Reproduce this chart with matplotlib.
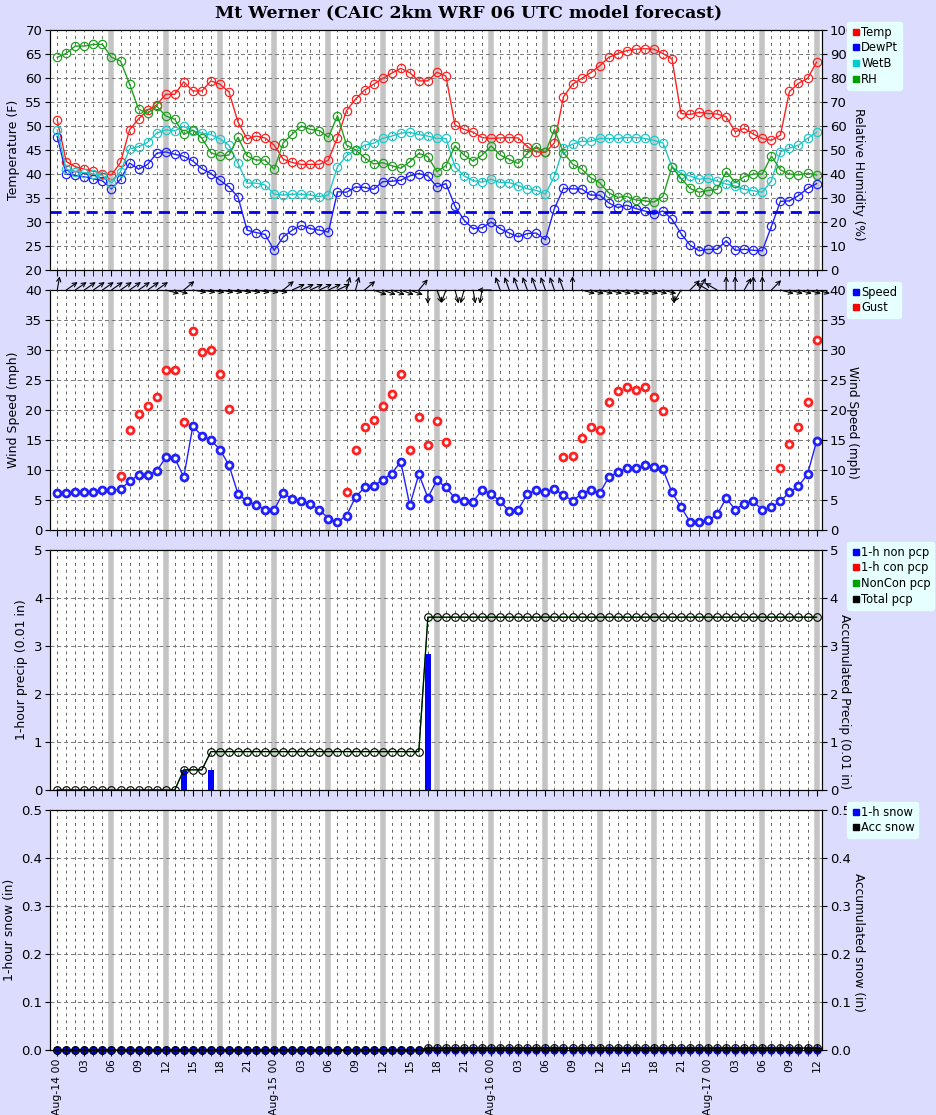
import numpy as np
import matplotlib
matplotlib.use("Agg")
import matplotlib.pyplot as plt
from matplotlib.lines import Line2D

hours = np.arange(85)

temp = [51.25, 42.6, 41.5, 41.0, 40.6, 40.1, 39.8, 42.4, 49.2, 51.5, 53.3, 54.4, 56.6, 56.6, 59.2,
        57.3, 57.3, 59.4, 58.7, 57.1, 50.8, 47.3, 47.9, 47.5, 46.0, 43.1, 42.4, 42.0, 42.0, 42.0,
        42.9, 47.6, 53.2, 55.6, 57.5, 58.7, 59.9, 61.0, 62.0, 61.1, 59.4, 59.4, 61.2, 60.4, 50.2,
        49.3, 48.7, 47.6, 47.4, 47.5, 47.6, 47.5, 45.7, 44.6, 44.5, 46.5, 56.1, 58.7, 59.9, 61.1,
        62.5, 64.3, 65.1, 65.7, 66.0, 66.1, 66.0, 65.1, 64.0, 52.6, 52.4, 52.85, 52.6, 52.5, 51.9,
        48.8, 49.5, 48.3, 47.4, 47.0, 48.1, 57.2, 58.9, 59.9, 61.7]
temp = temp[:84] + [63.3]
dewpt = [47.8, 40.0, 39.7, 39.4, 39.0, 38.6, 36.9, 38.9, 42.3, 41.0, 42.0, 44.3, 44.6, 44.1, 43.7,
         42.7, 41.1, 40.1, 38.7, 37.3, 35.2, 28.3, 27.8, 27.4, 24.1, 26.9, 28.3, 29.3, 28.6, 28.3,
         27.9, 36.3, 36.2, 37.3, 37.2, 36.8, 38.4, 38.5, 38.7, 39.6, 40.1, 39.6, 37.3, 38.0, 33.3,
         30.4, 28.6, 28.8, 30.0, 28.6, 27.7, 26.9, 27.6, 27.7, 26.3, 32.8, 37.0, 36.9, 36.9, 35.6,
         35.6, 34.0, 33.0, 33.5, 32.8, 32.3, 31.6, 32.3, 30.6, 27.6, 25.2, 24.0, 24.3, 24.3, 26.1,
         24.1, 24.3, 24.1, 24.0, 29.1, 34.3, 34.4, 35.5, 37.0, 38.0]
wetb = [49.2, 41.0, 40.5, 40.3, 40.0, 39.7, 38.2, 40.5, 45.2, 45.7, 46.6, 48.5, 49.2, 49.0, 49.9,
        49.0, 48.5, 48.2, 47.3, 46.0, 42.2, 38.1, 38.1, 37.7, 35.8, 35.6, 35.8, 35.8, 35.6, 35.3,
        35.6, 41.5, 43.8, 45.0, 46.0, 46.4, 47.4, 47.9, 48.5, 48.7, 48.2, 47.9, 47.4, 47.4, 41.5,
        39.6, 38.6, 38.3, 38.9, 38.2, 38.2, 37.6, 36.9, 36.6, 35.8, 39.6, 45.4, 46.2, 46.8, 46.8,
        47.4, 47.4, 47.4, 47.6, 47.6, 47.4, 47.0, 46.5, 41.5, 40.1, 39.6, 38.9, 39.1, 38.5, 37.9,
        37.5, 36.8, 36.5, 36.2, 38.6, 44.6, 45.4, 46.0, 47.4, 48.7]
rh = [88.6, 90.3, 93.3, 93.3, 94.0, 94.0, 88.6, 87.1, 77.5, 67.0, 65.3, 68.3, 64.2, 62.8, 56.5,
      58.3, 54.9, 48.9, 47.5, 47.9, 55.3, 47.5, 45.8, 45.8, 42.0, 53.0, 56.7, 60.0, 58.6, 58.1,
      55.3, 64.3, 52.1, 50.0, 46.8, 44.2, 44.7, 43.5, 42.4, 45.1, 48.6, 47.2, 41.0, 43.5, 51.7,
      47.9, 45.4, 47.9, 51.7, 47.9, 46.1, 44.4, 48.6, 51.4, 49.0, 58.6, 48.9, 44.2, 42.1, 38.5,
      36.4, 32.2, 30.3, 30.6, 29.2, 28.8, 28.3, 30.6, 43.0, 38.2, 34.0, 32.4, 33.1, 33.6, 41.0,
      36.4, 38.9, 40.0, 40.0, 47.5, 41.7, 40.0, 39.6, 40.3, 39.6]
freezing = 32

speed = [6.1, 6.1, 6.4, 6.3, 6.3, 6.6, 6.6, 6.8, 8.1, 9.2, 9.2, 9.8, 12.1, 12.0, 8.8,
         17.3, 15.7, 15.0, 13.4, 10.8, 6.0, 4.8, 4.1, 3.4, 3.4, 6.2, 5.1, 4.9, 4.3, 3.4,
         1.9, 1.3, 2.4, 5.5, 7.1, 7.3, 8.4, 9.4, 11.4, 4.1, 9.3, 5.4, 8.3, 7.1, 5.3,
         4.8, 4.7, 6.7, 6.0, 4.8, 3.1, 3.4, 6.0, 6.7, 6.3, 6.8, 5.8, 4.9, 6.0, 6.7,
         6.1, 8.8, 9.6, 10.3, 10.3, 10.8, 10.5, 10.1, 6.3, 3.8, 1.4, 1.4, 1.6, 2.6, 5.3,
         3.4, 4.4, 4.8, 3.3, 3.8, 4.8, 6.3, 7.3, 9.3, 14.8]
gust_hours = [7, 8, 9, 10, 11, 12, 13, 14, 15, 16, 17, 18, 19,
              32, 33, 34, 35, 36, 37, 38, 39, 40, 41, 42, 43,
              56, 57, 58, 59, 60, 61, 62, 63, 64, 65, 66, 67,
              80, 81, 82, 83, 84]
gust = [9.0, 16.7, 19.3, 20.6, 22.1, 26.6, 26.6, 18.0, 33.1, 29.6, 30.0, 26.0, 20.1,
        6.3, 13.3, 17.1, 18.4, 20.6, 22.6, 26.0, 13.4, 18.8, 14.1, 18.1, 14.6,
        12.1, 12.3, 15.3, 17.1, 16.6, 21.3, 23.1, 23.9, 23.4, 23.8, 22.1, 19.8,
        10.3, 14.3, 17.2, 21.3, 31.7]
# direction the wind arrow points (math degrees)
arrow_dir = [80] + [35] * 11 + [-15, -15, 40] + [-10] * 10 + [40] + [25] * 6 + [75, 75, 40] + \
            [-20] * 5 + [50, -90] + [-70, -110, -75, -105, -80, -100] + [180] + [110] * 8 + [90] + \
            [-15] * 10 + [-80, -120, 45, 60, 150, 150, 90, 90, 60, 90, 90, 45] + [-15] * 5

pcp_hours = [14, 17, 41]
pcp_1h = [0.42, 0.42, 2.83]
total_pcp = [0.0] * 14 + [0.42] * 3 + [0.8] * 24 + [3.6] * 44
snow_1h = [0.0] * 85
acc_snow = [0.0] * 41 + [0.004] * 44

bg = "#DCDCFF"
fig = plt.figure(figsize=(9.37, 11.15), dpi=100, facecolor=bg)
L, W = 50 / 937, 772 / 937
panels = [(30, 270), (290, 530), (550, 790), (810, 1050)]
axes = [fig.add_axes([L, 1 - yb / 1115, W, (yb - yt) / 1115]) for yt, yb in panels]

xt = np.arange(0, 85, 3)
xlab = []
for h in xt:
    d, hh = divmod(h, 24)
    xlab.append(f"Aug-{14 + d} 00" if hh == 0 else f"{hh:02d}")


def style(ax, show_x):
    ax.set_facecolor("white")
    ax.set_xlim(-0.8, 84.6)
    for h in hours:
        if h % 6 == 0 and h > 0:
            ax.axvline(h, color="#C4C4C4", lw=4, zorder=0)
        else:
            ax.axvline(h, color="#666666", lw=0.7, ls=(0, (3, 4)), zorder=0)
    ax.grid(axis="y", color="#777777", lw=0.7, ls=(0, (4, 3)))
    ax.set_xticks(xt)
    ax.set_xticks(hours, minor=True)
    ax.tick_params(axis="x", which="both", direction="out", length=4)
    if show_x:
        ax.set_xticklabels(xlab, rotation=90, fontsize=7.8)
        ax.tick_params(axis="x", pad=2)
    else:
        ax.set_xticklabels([])
    ax.tick_params(axis="y", labelsize=9.5, pad=2)


def right_axis(ax, ylim, yticks, label, lx, ly):
    axr = ax.twinx()
    axr.set_ylim(*ylim)
    axr.set_yticks(yticks)
    axr.tick_params(labelsize=9.5, pad=2)
    axr.set_ylabel(label, fontsize=8.7, rotation=270, va="center")
    axr.yaxis.set_label_coords(lx, ly)
    return axr


def legend(ax, labels, colors):
    hs = [Line2D([], [], marker="s", ls="none", color=c, markersize=5) for c in colors]
    ax.legend(hs, labels, loc="upper left", bbox_to_anchor=(1.033, 1.033), fontsize=8.3,
              facecolor="#E6FFFF", edgecolor="#E6FFFF", framealpha=1, handletextpad=0.1,
              borderpad=0.3, labelspacing=0.25, fancybox=True, handlelength=0.8,
              borderaxespad=0)


# panel 1: temperature
ax = axes[0]
ax.set_ylim(20, 70)
ax.set_yticks(np.arange(20, 71, 5))
style(ax, False)
mk = dict(marker="o", mfc="none", ms=6, mew=0.9, lw=1)
ax.plot(hours, temp, color="#FF2020", **mk)
ax.plot(hours, dewpt, color="#2020FF", **mk)
ax.plot(hours, wetb, color="#20C8C8", **mk)
ax.axhline(freezing, color="#0000EE", lw=2, ls=(0, (4, 2.5)))
ax.set_ylabel("Temperature (F)", fontsize=9)
axr = right_axis(ax, (0, 100), np.arange(0, 101, 10), "Relative Humidity (%)", 1.047, 0.40)
axr.plot(hours, rh, color="#20A020", **mk)
legend(axr, ["Temp", "DewPt", "WetB", "RH"], ["#FF0000", "#0000FF", "#00CCCC", "#00A000"])

# panel 2: wind
ax = axes[1]
ax.set_ylim(0, 40)
ax.set_yticks(np.arange(0, 41, 5))
style(ax, False)
wk = dict(marker="o", mfc="white", ms=5, mew=2)
ax.plot(hours, speed, color="#2020FF", lw=1, **wk)
ax.plot(gust_hours, gust, color="#FF2020", ls="none", **wk)
for h, a in zip(hours, arrow_dir):
    r = np.deg2rad(a)
    ax.annotate("", xy=(h, 40), xytext=(10 * np.cos(r), 10 * np.sin(r)), textcoords="offset points",
                arrowprops=dict(arrowstyle="<-,head_length=0.3,head_width=0.15", lw=0.8,
                                color="black", shrinkA=0, shrinkB=0),
                annotation_clip=False)
ax.set_ylabel("Wind Speed (mph)", fontsize=9)
axr = right_axis(ax, (0, 40), np.arange(0, 41, 5), "Wind Speed (mph)", 1.04, 0.45)
legend(axr, ["Speed", "Gust"], ["#0000FF", "#FF0000"])

# panel 3: precip
ax = axes[2]
ax.set_ylim(0, 5)
ax.set_yticks(np.arange(0, 6, 1))
style(ax, False)
ax.bar(pcp_hours, pcp_1h, width=0.6, color="#0000FF", zorder=3)
ax.set_ylabel("1-hour precip (0.01 in)", fontsize=9)
axr = right_axis(ax, (0, 5), np.arange(0, 6, 1), "Accumulated Precip (0.01 in)", 1.029, 0.37)
axr.plot(hours, total_pcp, color="#00A000", lw=1)
axr.plot(hours, total_pcp, color="black", lw=0.8, marker="o", mfc="none", ms=5.5, mew=0.8)
legend(axr, ["1-h non pcp", "1-h con pcp", "NonCon pcp", "Total pcp"],
       ["#0000FF", "#FF0000", "#00A000", "#000000"])

# panel 4: snow
ax = axes[3]
ax.set_ylim(0, 0.5)
ax.set_yticks(np.arange(0, 0.51, 0.1))
style(ax, True)
ax.plot(hours, snow_1h, color="#0000FF", ls="none", marker="o", ms=5, clip_on=False, zorder=4)
ax.set_ylabel("1-hour snow (in)", fontsize=9)
axr = right_axis(ax, (0, 0.5), np.arange(0, 0.51, 0.1), "Accumulated snow (in)", 1.047, 0.45)
axr.plot(hours, acc_snow, color="black", lw=1, marker="o", mfc="none", ms=5.5, mew=0.8,
         clip_on=False, zorder=5)
axr.plot(hours, acc_snow, color="black", ls="none", marker="+", ms=6, clip_on=False, zorder=6)
legend(axr, ["1-h snow", "Acc snow"], ["#0000FF", "#000000"])

fig.text(0.5, 0.9885, "Mt Werner (CAIC 2km WRF 06 UTC model forecast)", ha="center", va="center",
         fontsize=12.5, fontweight="bold", family="DejaVu Serif")

fig.savefig("out.png", dpi=100, facecolor=bg)
